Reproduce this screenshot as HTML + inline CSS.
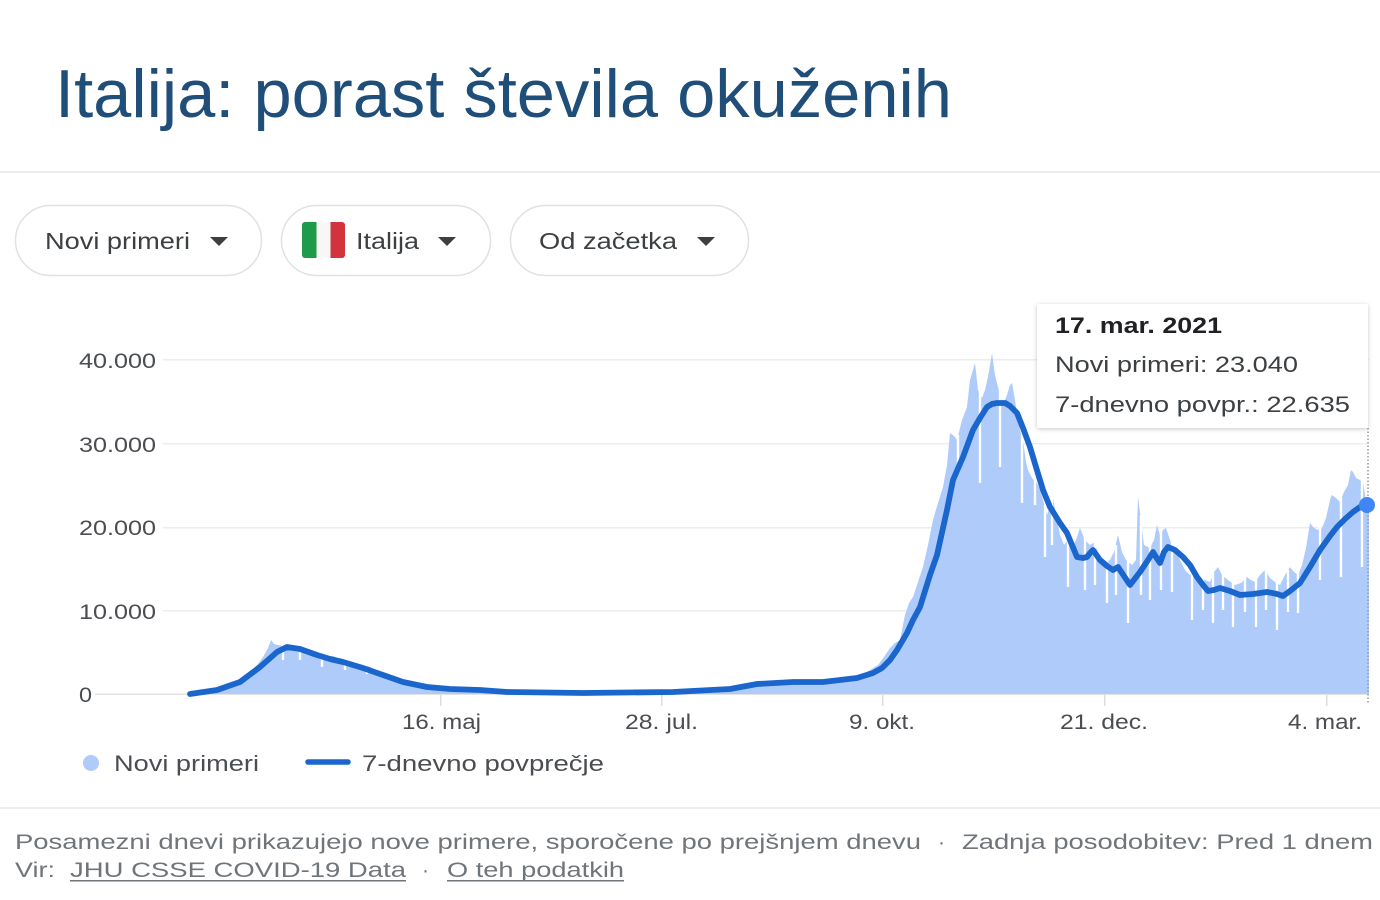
<!DOCTYPE html>
<html>
<head>
<meta charset="utf-8">
<style>
  html,body{margin:0;padding:0;background:#fff;}
  body{width:1380px;height:900px;overflow:hidden;}
  svg{display:block;}
  text{font-family:"Liberation Sans","DejaVu Sans",sans-serif;}
</style>
</head>
<body>
<svg width="1380" height="900" viewBox="0 0 1380 900" xmlns="http://www.w3.org/2000/svg">
  <defs>
    <filter id="sh" x="-10%" y="-10%" width="120%" height="130%">
      <feDropShadow dx="0" dy="1" stdDeviation="2" flood-color="#000" flood-opacity="0.22"/>
    </filter>
  </defs>
  <rect x="0" y="0" width="1380" height="900" fill="#fff"/>

  <!-- Title -->
  <text x="55" y="117" font-size="68" fill="#1f4e79" textLength="897" lengthAdjust="spacingAndGlyphs">Italija: porast števila okuženih</text>

  <!-- separator -->
  <rect x="0" y="171" width="1380" height="2" fill="#ececec"/>

  <!-- Chips -->
  <rect x="15.5" y="205.5" width="246" height="70" rx="35" ry="35" fill="#fff" stroke="#dfe1e5" stroke-width="1.5"/>
  <text x="45" y="249" font-size="23" fill="#3c4043" textLength="145" lengthAdjust="spacingAndGlyphs">Novi primeri</text>
  <polygon points="210,237 228,237 219,246" fill="#3c4043"/>

  <rect x="281.5" y="205.5" width="209" height="70" rx="35" ry="35" fill="#fff" stroke="#dfe1e5" stroke-width="1.5"/>
  <g>
    <rect x="302" y="222" width="43" height="36" rx="3" fill="#f4f4f4"/>
    <rect x="302" y="222" width="14.5" height="36" rx="3" fill="#1f9a4a"/>
    <rect x="309" y="222" width="8" height="36" fill="#1f9a4a"/>
    <rect x="316.5" y="222" width="14" height="36" fill="#f7f7f7"/>
    <rect x="330.5" y="222" width="14.5" height="36" rx="3" fill="#d3333c"/>
    <rect x="330.5" y="222" width="7" height="36" fill="#d3333c"/>
  </g>
  <text x="356" y="249" font-size="23" fill="#3c4043" textLength="63" lengthAdjust="spacingAndGlyphs">Italija</text>
  <polygon points="438,237 456,237 447,246" fill="#3c4043"/>

  <rect x="510.5" y="205.5" width="238" height="70" rx="35" ry="35" fill="#fff" stroke="#dfe1e5" stroke-width="1.5"/>
  <text x="539" y="249" font-size="23" fill="#3c4043" textLength="138" lengthAdjust="spacingAndGlyphs">Od začetka</text>
  <polygon points="697,237 715,237 706,246" fill="#3c4043"/>

  <!-- Gridlines -->
  <g fill="#ececec">
    <rect x="163" y="359" width="1206" height="1.5"/>
    <rect x="163" y="443" width="1206" height="1.5"/>
    <rect x="163" y="527" width="1206" height="1.5"/>
    <rect x="163" y="610" width="1206" height="1.5"/>
  </g>
  <rect x="95" y="693.5" width="1274" height="1.5" fill="#e3e3e3"/>

  <!-- Y labels -->
  <g font-size="21" fill="#4a4d51">
    <text x="79" y="368" textLength="77" lengthAdjust="spacingAndGlyphs">40.000</text>
    <text x="79" y="452" textLength="77" lengthAdjust="spacingAndGlyphs">30.000</text>
    <text x="79" y="535" textLength="77" lengthAdjust="spacingAndGlyphs">20.000</text>
    <text x="79" y="619" textLength="77" lengthAdjust="spacingAndGlyphs">10.000</text>
    <text x="79" y="702" textLength="13" lengthAdjust="spacingAndGlyphs">0</text>
  </g>

  <!-- Bars (daily new cases) area -->
  <polygon fill="#aecbfa" points="190,694 200,693 217,689 230,685 240,679 250,672 257,665 263,657 268,648 271,640 274,644 278,645 284,646 290,645 296,652 302,648 310,654 317,652 325,657 333,656 340,660 346,661 353,663 360,666 368,666 375,670 383,673 393,677 403,681 415,684 427,686 450,688 480,690 507,691 583,692 673,691 730,688 745,685 757,682 793,680 823,680 850,678 862,675 870,670 878,665 884,657 890,648 895,643 900,640 905,615 909,603 913,597 918,582 923,567 928,545 933,520 938,503 943,487 947,465 950,433 954,436 957,440 962,420 967,407 970,380 975,363 978,390 982,398 985,390 988,377 992,353 995,375 997,383 1000,395 1003,405 1007,395 1010,385 1012,383 1015,400 1017,413 1020,430 1023,440 1026,462 1028,470 1032,478 1037,483 1040,490 1043,500 1047,515 1050,505 1053,497 1056,515 1060,535 1064,545 1068,540 1072,548 1076,540 1080,528 1085,540 1090,545 1095,542 1098,555 1102,565 1106,562 1110,560 1114,552 1118,535 1122,552 1126,560 1132,565 1136,560 1138,497 1141,520 1144,545 1150,548 1154,540 1157,525 1160,535 1163,530 1166,528 1170,540 1175,548 1180,560 1185,570 1190,575 1195,572 1200,577 1205,580 1210,582 1214,572 1218,567 1222,575 1228,580 1235,585 1241,583 1247,577 1251,580 1255,582 1260,575 1265,570 1270,578 1275,582 1280,585 1285,575 1290,567 1294,572 1298,575 1302,565 1306,548 1310,523 1314,528 1318,530 1322,528 1326,518 1330,500 1332,495 1336,498 1340,502 1344,492 1348,485 1351,470 1353,472 1356,478 1360,480 1363,482 1366,500 1369,502 1369,694"/>

  <!-- White dips (low reporting days) -->
  <g stroke="#fff" stroke-width="2.4">
    <line x1="283" y1="644" x2="283" y2="660"/>
    <line x1="300" y1="647" x2="300" y2="660"/>
    <line x1="322" y1="654" x2="322" y2="667"/>
    <line x1="345" y1="659" x2="345" y2="670"/>
    <line x1="367" y1="664" x2="367" y2="674"/>
    <line x1="958" y1="435" x2="958" y2="470"/>
    <line x1="980" y1="390" x2="980" y2="483"/>
    <line x1="1000" y1="390" x2="1000" y2="467"/>
    <line x1="1022" y1="432" x2="1022" y2="503"/>
    <line x1="1035" y1="478" x2="1035" y2="505"/>
    <line x1="1045" y1="505" x2="1045" y2="557"/>
    <line x1="1052" y1="498" x2="1052" y2="545"/>
    <line x1="1068" y1="536" x2="1068" y2="587"/>
    <line x1="1085" y1="535" x2="1085" y2="590"/>
    <line x1="1095" y1="540" x2="1095" y2="585"/>
    <line x1="1107" y1="555" x2="1107" y2="603"/>
    <line x1="1116" y1="545" x2="1116" y2="595"/>
    <line x1="1128" y1="555" x2="1128" y2="623"/>
    <line x1="1141" y1="515" x2="1141" y2="595"/>
    <line x1="1150" y1="540" x2="1150" y2="600"/>
    <line x1="1161" y1="530" x2="1161" y2="590"/>
    <line x1="1172" y1="540" x2="1172" y2="592"/>
    <line x1="1192" y1="570" x2="1192" y2="620"/>
    <line x1="1203" y1="575" x2="1203" y2="610"/>
    <line x1="1213" y1="568" x2="1213" y2="623"/>
    <line x1="1223" y1="572" x2="1223" y2="610"/>
    <line x1="1233" y1="580" x2="1233" y2="627"/>
    <line x1="1245" y1="578" x2="1245" y2="612"/>
    <line x1="1256" y1="578" x2="1256" y2="627"/>
    <line x1="1266" y1="570" x2="1266" y2="610"/>
    <line x1="1277" y1="578" x2="1277" y2="630"/>
    <line x1="1288" y1="570" x2="1288" y2="612"/>
    <line x1="1298" y1="570" x2="1298" y2="613"/>
    <line x1="1320" y1="525" x2="1320" y2="580"/>
    <line x1="1341" y1="498" x2="1341" y2="577"/>
    <line x1="1362" y1="478" x2="1362" y2="567"/>
  </g>

  <!-- X ticks -->
  <g fill="#dcdcdc">
    <rect x="440" y="695" width="1.5" height="11"/>
    <rect x="661" y="695" width="1.5" height="11"/>
    <rect x="882" y="695" width="1.5" height="11"/>
    <rect x="1104" y="695" width="1.5" height="11"/>
    <rect x="1326" y="695" width="1.5" height="11"/>
  </g>

  <!-- hover dotted line -->
  <line x1="1368" y1="428" x2="1368" y2="704" stroke="#9a9a9a" stroke-width="1.5" stroke-dasharray="1.5,2"/>

  <!-- 7-day avg line -->
  <polyline fill="none" stroke="#1a66cc" stroke-width="5.8" stroke-linejoin="round" stroke-linecap="round" points="190,694 217,690 240,682 260,667 277,652 287,647 300,649 317,655 330,659 343,662 363,668 383,675 403,682 427,687 450,689 480,690 507,692 583,693 673,692 730,689 757,684 793,682 823,682 857,678 873,673 882,668 890,660 897,650 907,633 913,620 920,607 930,575 937,555 947,510 953,480 963,457 973,430 980,418 987,407 992,404 997,403 1005,403 1010,406 1017,413 1023,428 1030,447 1036,467 1043,490 1050,507 1060,523 1067,533 1072,545 1077,557 1083,558 1087,557 1090,553 1093,550 1100,560 1107,566 1113,570 1118,567 1124,576 1130,585 1140,572 1148,560 1153,552 1156,557 1160,563 1164,552 1168,547 1175,550 1183,557 1190,565 1197,577 1203,585 1208,591 1214,590 1220,588 1230,591 1240,595 1253,594 1267,592 1277,594 1283,596 1290,591 1300,583 1310,567 1320,550 1330,536 1337,527 1345,519 1353,512 1360,507 1367,505"/>
  <circle cx="1367" cy="505" r="8" fill="#4285f4"/>

  <!-- X labels -->
  <g font-size="21" fill="#4a4d51">
    <text x="402" y="729" textLength="79" lengthAdjust="spacingAndGlyphs">16. maj</text>
    <text x="625" y="729" textLength="73" lengthAdjust="spacingAndGlyphs">28. jul.</text>
    <text x="849" y="729" textLength="66" lengthAdjust="spacingAndGlyphs">9. okt.</text>
    <text x="1060" y="729" textLength="88" lengthAdjust="spacingAndGlyphs">21. dec.</text>
    <text x="1288" y="729" textLength="74" lengthAdjust="spacingAndGlyphs">4. mar.</text>
  </g>

  <!-- Tooltip -->
  <rect x="1037" y="304" width="331" height="124" fill="#fff" filter="url(#sh)"/>
  <text x="1055" y="333" font-size="22" font-weight="bold" fill="#202124" textLength="167" lengthAdjust="spacingAndGlyphs">17. mar. 2021</text>
  <text x="1055" y="372" font-size="22" fill="#3c4043" textLength="243" lengthAdjust="spacingAndGlyphs">Novi primeri: 23.040</text>
  <text x="1055" y="412" font-size="22" fill="#3c4043" textLength="295" lengthAdjust="spacingAndGlyphs">7-dnevno povpr.: 22.635</text>

  <!-- Legend -->
  <circle cx="91" cy="763" r="8" fill="#aecbfa"/>
  <text x="114" y="771" font-size="22" fill="#4a4d51" textLength="145" lengthAdjust="spacingAndGlyphs">Novi primeri</text>
  <line x1="308" y1="762" x2="348" y2="762" stroke="#1a66cc" stroke-width="5.5" stroke-linecap="round"/>
  <text x="362" y="771" font-size="22" fill="#4a4d51" textLength="242" lengthAdjust="spacingAndGlyphs">7-dnevno povprečje</text>

  <!-- Footer separator -->
  <rect x="0" y="807" width="1380" height="2" fill="#ececec"/>

  <!-- Footer -->
  <text x="15" y="849" font-size="21" fill="#70757a" textLength="906" lengthAdjust="spacingAndGlyphs">Posamezni dnevi prikazujejo nove primere, sporočene po prejšnjem dnevu</text>
  <text x="938" y="849" font-size="21" fill="#70757a">·</text>
  <text x="962" y="849" font-size="21" fill="#70757a" textLength="411" lengthAdjust="spacingAndGlyphs">Zadnja posodobitev: Pred 1 dnem</text>
  <text x="15" y="877" font-size="21" fill="#70757a" textLength="40" lengthAdjust="spacingAndGlyphs">Vir:</text>
  <text x="70" y="877" font-size="21" fill="#70757a" textLength="336" lengthAdjust="spacingAndGlyphs">JHU CSSE COVID-19 Data</text>
  <rect x="70" y="880" width="336" height="1.5" fill="#70757a"/>
  <text x="422" y="877" font-size="21" fill="#70757a">·</text>
  <text x="447" y="877" font-size="21" fill="#70757a" textLength="177" lengthAdjust="spacingAndGlyphs">O teh podatkih</text>
  <rect x="447" y="880" width="177" height="1.5" fill="#70757a"/>
</svg>
</body>
</html>
